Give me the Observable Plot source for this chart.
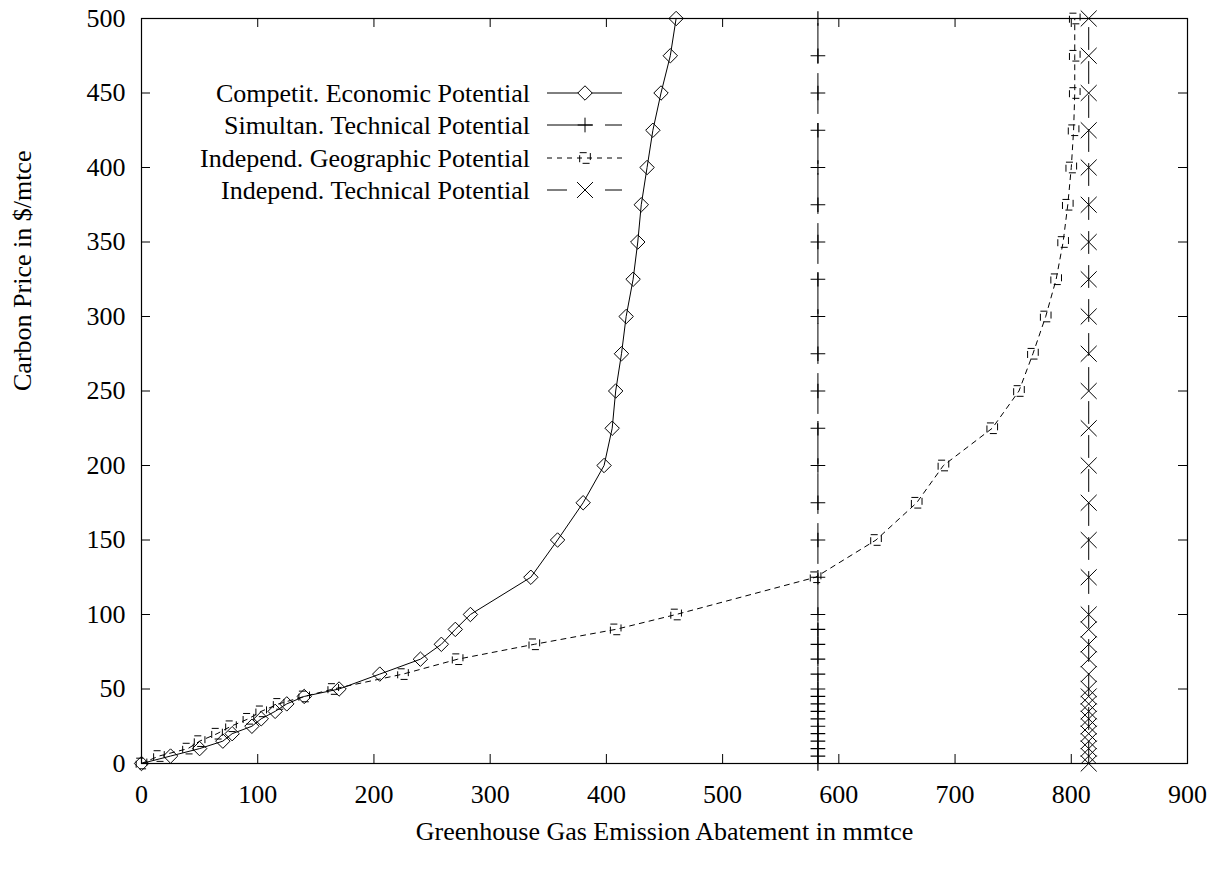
<!DOCTYPE html>
<html><head><meta charset="utf-8">
<script src="https://cdn.jsdelivr.net/npm/d3@7"></script>
<script src="https://cdn.jsdelivr.net/npm/@observablehq/plot@0.6"></script>
<style>
body{margin:0;background:#fff;}
#wrap{position:relative;width:1216px;height:869px;}
</style></head><body><div id="wrap"></div>
<script>
// ---- data ----
const seriesNames = ["Competit. Economic Potential", "Simultan. Technical Potential", "Independ. Geographic Potential", "Independ. Technical Potential"];
const econX = [0, 25, 50, 70, 78, 95, 103, 115, 125, 140, 170, 205, 240, 258, 270, 283, 335, 358, 380, 398, 405, 408, 413, 417, 423, 427, 430, 435, 440, 447, 455, 460];
const econY = [0, 5, 10, 15, 20, 25, 30, 35, 40, 45, 50, 60, 70, 80, 90, 100, 125, 150, 175, 200, 225, 250, 275, 300, 325, 350, 375, 400, 425, 450, 475, 500];
const geoX = [0, 15, 40, 50, 65, 77, 92, 103, 118, 140, 165, 225, 272, 338, 408, 460, 580, 632, 667, 690, 732, 755, 767, 778, 787, 793, 797, 800, 802, 803, 803, 803];
const geoY = [0, 5, 10, 15, 20, 25, 30, 35, 40, 45, 50, 60, 70, 80, 90, 100, 125, 150, 175, 200, 225, 250, 275, 300, 325, 350, 375, 400, 425, 450, 475, 500];
const simulX = 582;
const simulY = [0, 5, 10, 15, 20, 25, 30, 35, 40, 45, 50, 60, 70, 80, 90, 100, 125, 150, 175, 200, 225, 250, 275, 300, 325, 350, 375, 400, 425, 450, 475, 500];
const indepX = 815;
const indepY = [0, 5, 10, 15, 20, 25, 30, 35, 40, 45, 50, 60, 70, 80, 90, 100, 125, 150, 175, 200, 225, 250, 275, 300, 325, 350, 375, 400, 425, 450, 475, 500];
const xTicks = [0, 100, 200, 300, 400, 500, 600, 700, 800, 900];
const yTicks = [0, 50, 100, 150, 200, 250, 300, 350, 400, 450, 500];
const xLabel = "Greenhouse Gas Emission Abatement in mmtce";
const yLabel = "Carbon Price in $/mtce";

// ---- tables ----
const econ = econX.map((x, i) => ({x, y: econY[i]}));
const geo = geoX.map((x, i) => ({x, y: geoY[i]}));
const simul = simulY.map(y => ({x: simulX, y}));
const indep = indepY.map(y => ({x: indepX, y}));

const W = 1216, H = 869, mL = 141, mR = 29, mT = 18, mB = 106;
const innerH = H - mT - mB, innerW = W - mL - mR;
const FONT = "'Liberation Serif', 'DejaVu Serif', serif";
const FS = 26;
const tick = 9;

const chart = Plot.plot({
  width: W, height: H,
  marginLeft: mL, marginRight: mR, marginTop: mT, marginBottom: mB,
  style: {fontFamily: FONT, fontSize: FS + "px", color: "#000", background: "#fff"},
  x: {domain: [0, 900]},
  y: {domain: [0, 500]},
  marks: [
    Plot.ruleX(xTicks.slice(1, -1), {insetTop: innerH - tick, stroke: "#000"}),
    Plot.ruleX(xTicks.slice(1, -1), {insetBottom: innerH - tick, stroke: "#000"}),
    Plot.ruleY(yTicks.slice(1, -1), {insetRight: innerW - tick, stroke: "#000"}),
    Plot.ruleY(yTicks.slice(1, -1), {insetLeft: innerW - tick, stroke: "#000"}),
    Plot.axisX(xTicks, {tickSize: 0, tickPadding: 21, fontSize: FS, label: null}),
    Plot.axisY(yTicks, {tickSize: 0, tickPadding: 16, fontSize: FS, label: null}),
    Plot.text([xLabel], {text: d => d, frameAnchor: "bottom", lineAnchor: "middle", dy: 68, fontSize: FS}),
    Plot.text([yLabel], {text: d => d, frameAnchor: "left", lineAnchor: "middle", dx: -119, rotate: -90, fontSize: FS}),
    // Simultan technical
    Plot.line(simul, {x: "x", y: "y", stroke: "#000", strokeWidth: 1, strokeDasharray: "40,10"}),
    Plot.dot(simul, {x: "x", y: "y", symbol: "plus", r: 4.8, stroke: "#000", fill: "none", strokeWidth: 1.2}),
    // Independ technical
    Plot.line(indep, {x: "x", y: "y", stroke: "#000", strokeWidth: 1, strokeDasharray: "22,12"}),
    Plot.dot(indep, {x: "x", y: "y", symbol: "times", r: 7.3, stroke: "#000", fill: "none", strokeWidth: 1}),
    // Geographic
    Plot.line(geo, {x: "x", y: "y", stroke: "#000", strokeWidth: 1, strokeDasharray: "5,5"}),
    Plot.dot(geo, {x: "x", y: "y", symbol: "square", r: 6, stroke: "#000", fill: "none", strokeWidth: 1, strokeDasharray: "7,4"}),
    // Economic
    Plot.line(econ, {x: "x", y: "y", stroke: "#000", strokeWidth: 1}),
    Plot.dot(econ, {x: "x", y: "y", symbol: "diamond2", r: 6.5, stroke: "#000", fill: "none", strokeWidth: 1}),
    Plot.frame({stroke: "#000", strokeWidth: 1.2})
  ]
});
document.getElementById("wrap").appendChild(chart);

// ---- legend (inside the plot box, like gnuplot's key) ----
const svg = d3.select(chart);
const lg = svg.append("g").attr("font-family", FONT).attr("font-size", FS);
const rowsY = [93, 125, 158, 190];
const styles = [
  {dash: null, sym: d3.symbolDiamond2, size: Math.PI * 6.5 * 6.5, sdash: null},
  {dash: "46,12", sym: d3.symbolPlus, size: Math.PI * 4.8 * 4.8, sdash: null},
  {dash: "5,5", sym: d3.symbolSquare, size: Math.PI * 6 * 6, sdash: "7,4"},
  {dash: "20,38", sym: d3.symbolTimes, size: Math.PI * 7.3 * 7.3, sdash: null}
];
seriesNames.forEach((name, i) => {
  const y = rowsY[i], st = styles[i];
  lg.append("text").attr("x", 530).attr("y", y).attr("dy", "0.35em")
    .attr("text-anchor", "end").attr("fill", "#000").text(name);
  lg.append("line").attr("x1", 547).attr("x2", 622).attr("y1", y).attr("y2", y)
    .attr("stroke", "#000").attr("stroke-dasharray", st.dash);
  lg.append("path").attr("transform", `translate(585,${y})`)
    .attr("d", d3.symbol(st.sym, st.size)()).attr("fill", i === 0 ? "#fff" : "none")
    .attr("stroke", "#000").attr("stroke-dasharray", st.sdash);
});
</script>
</body></html>
